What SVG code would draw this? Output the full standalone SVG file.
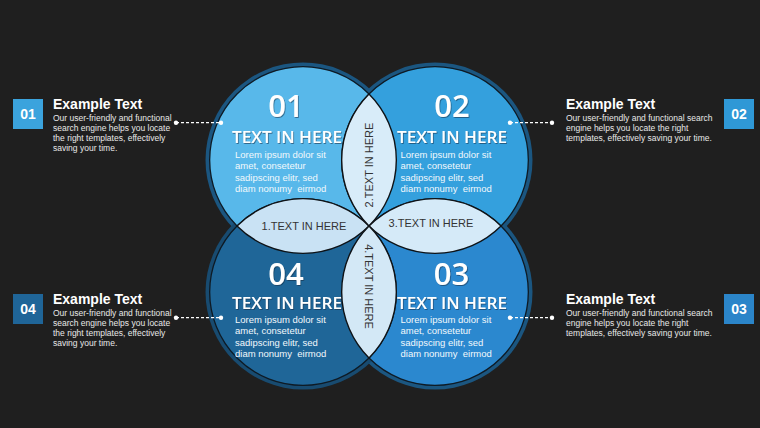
<svg xmlns="http://www.w3.org/2000/svg" width="760" height="428" viewBox="0 0 760 428">
<defs>
<filter id="sh" x="-10%" y="-10%" width="120%" height="130%">
<feDropShadow dx="0.8" dy="1" stdDeviation="0.6" flood-color="#0b2a40" flood-opacity="0.55"/>
</filter>
</defs>
<style>
.ring{fill:#1b5680}
.disc{stroke:#0e1a24;stroke-width:1.3}
.lens{stroke:#0e1216;stroke-width:1.4}
.num{font-family:"Open Sans","Liberation Sans",sans-serif;font-weight:600;font-size:31px;fill:#fff;text-anchor:middle}
.ttl{font-family:"Open Sans","Liberation Sans",sans-serif;font-weight:600;font-size:15.5px;fill:#fff;text-anchor:middle}
.lor{font-family:"Liberation Sans",Arial,sans-serif;font-size:9.5px;fill:#f2f8fc}
.lt{font-family:"Liberation Sans",Arial,sans-serif;font-size:11px;fill:#333;text-anchor:middle}
.box{stroke:none}
.bn{font-family:"Liberation Sans",Arial,sans-serif;font-weight:bold;font-size:14px;fill:#fff;text-anchor:middle}
.et{font-family:"Liberation Sans",Arial,sans-serif;font-weight:bold;font-size:14px;fill:#fff}
.bd{font-family:"Liberation Sans",Arial,sans-serif;font-size:8.5px;fill:#e8e8e8}
.dl{stroke:#fff;stroke-width:1.2;stroke-dasharray:3 2;fill:none}
.dot{fill:#fff}
</style>
<rect width="760" height="428" fill="#1f1f1f"/>

<g id="rings">
<circle class="ring" cx="303" cy="160" r="97.5"/>
<circle class="ring" cx="435" cy="160" r="97.5"/>
<circle class="ring" cx="435" cy="292" r="97.5"/>
<circle class="ring" cx="303" cy="292" r="97.5" style="fill:#184b70"/>
</g>

<g id="circle1">
<circle class="disc" cx="303" cy="160" r="93.34" fill="#58b8ea"/>
</g>
<g id="circle2">
<circle class="disc" cx="435" cy="160" r="93.34" fill="#34a0dd"/>
</g>
<g id="circle3">
<circle class="disc" cx="435" cy="292" r="93.34" fill="#2b88cf"/>
</g>
<g id="circle4">
<circle class="disc" cx="303" cy="292" r="93.34" fill="#1f6698"/>
</g>

<g id="lens1">
<path class="lens" d="M237,226 A93.34,93.34 0 0 1 369,226 A93.34,93.34 0 0 1 237,226 Z" fill="#c9e2f4"/>
<text class="lt" x="304" y="230">1.TEXT IN HERE</text>
</g>
<g id="lens2">
<path class="lens" d="M369,94 A93.34,93.34 0 0 1 369,226 A93.34,93.34 0 0 1 369,94 Z" fill="#d8ecf9"/>
<text class="lt" transform="translate(373,165) rotate(-90)">2.TEXT IN HERE</text>
</g>
<g id="lens3">
<path class="lens" d="M369,226 A93.34,93.34 0 0 1 501,226 A93.34,93.34 0 0 1 369,226 Z" fill="#d5eaf8"/>
<text class="lt" x="431" y="227">3.TEXT IN HERE</text>
</g>
<g id="lens4">
<path class="lens" d="M369,226 A93.34,93.34 0 0 1 369,358 A93.34,93.34 0 0 1 369,226 Z" fill="#d3e8f6"/>
<text class="lt" transform="translate(365,286.5) rotate(90)">4.TEXT IN HERE</text>
</g>

<g id="content1">
<text class="num" x="286" y="117" filter="url(#sh)">01</text>
<text class="ttl" x="287" y="143" textLength="110" lengthAdjust="spacingAndGlyphs" filter="url(#sh)">TEXT IN HERE</text>
<text class="lor" x="235" y="157.5" xml:space="preserve"><tspan x="235" y="157.5">Lorem ipsum dolor sit</tspan><tspan x="235" y="169">amet, consetetur</tspan><tspan x="235" y="180.5">sadipscing elitr, sed</tspan><tspan x="235" y="192">diam nonumy  eirmod</tspan></text>
</g>
<g id="content2">
<text class="num" x="452" y="117" filter="url(#sh)">02</text>
<text class="ttl" x="452" y="143" textLength="110" lengthAdjust="spacingAndGlyphs" filter="url(#sh)">TEXT IN HERE</text>
<text class="lor" x="400.5" y="157.5" xml:space="preserve"><tspan x="400.5" y="157.5">Lorem ipsum dolor sit</tspan><tspan x="400.5" y="169">amet, consetetur</tspan><tspan x="400.5" y="180.5">sadipscing elitr, sed</tspan><tspan x="400.5" y="192">diam nonumy  eirmod</tspan></text>
</g>
<g id="content3">
<text class="num" x="451.5" y="285" filter="url(#sh)">03</text>
<text class="ttl" x="452" y="309" textLength="110" lengthAdjust="spacingAndGlyphs" filter="url(#sh)">TEXT IN HERE</text>
<text class="lor" x="400.5" y="322.5" xml:space="preserve"><tspan x="400.5" y="322.5">Lorem ipsum dolor sit</tspan><tspan x="400.5" y="334">amet, consetetur</tspan><tspan x="400.5" y="345.5">sadipscing elitr, sed</tspan><tspan x="400.5" y="357">diam nonumy  eirmod</tspan></text>
</g>
<g id="content4">
<text class="num" x="286" y="285" filter="url(#sh)">04</text>
<text class="ttl" x="287" y="309" textLength="110" lengthAdjust="spacingAndGlyphs" filter="url(#sh)">TEXT IN HERE</text>
<text class="lor" x="235" y="322.5" xml:space="preserve"><tspan x="235" y="322.5">Lorem ipsum dolor sit</tspan><tspan x="235" y="334">amet, consetetur</tspan><tspan x="235" y="345.5">sadipscing elitr, sed</tspan><tspan x="235" y="357">diam nonumy  eirmod</tspan></text>
</g>

<g id="label1">
<rect class="box" x="13" y="99" width="30" height="30" fill="#3ba3dd"/>
<text class="bn" x="28" y="119">01</text>
<text class="et" x="53" y="109">Example Text</text>
<text class="bd"><tspan x="53" y="120.5">Our user-friendly and functional</tspan><tspan x="53" y="130.5">search engine helps you locate</tspan><tspan x="53" y="140.5">the right templates, effectively</tspan><tspan x="53" y="150.5">saving your time.</tspan></text>
</g>
<g id="label2">
<rect class="box" x="724" y="99" width="30" height="30" fill="#2f98d6"/>
<text class="bn" x="739" y="119">02</text>
<text class="et" x="566" y="108.5">Example Text</text>
<text class="bd"><tspan x="566" y="120.5">Our user-friendly and functional search</tspan><tspan x="566" y="130.5">engine helps you locate the right</tspan><tspan x="566" y="140.5">templates, effectively saving your time.</tspan></text>
</g>
<g id="label3">
<rect class="box" x="724" y="294" width="30" height="30" fill="#2b85c9"/>
<text class="bn" x="739" y="314">03</text>
<text class="et" x="566" y="303.5">Example Text</text>
<text class="bd"><tspan x="566" y="315.5">Our user-friendly and functional search</tspan><tspan x="566" y="325.5">engine helps you locate the right</tspan><tspan x="566" y="335.5">templates, effectively saving your time.</tspan></text>
</g>
<g id="label4">
<rect class="box" x="13" y="294" width="30" height="30" fill="#1f6598"/>
<text class="bn" x="28" y="314">04</text>
<text class="et" x="53" y="303.5">Example Text</text>
<text class="bd"><tspan x="53" y="315.5">Our user-friendly and functional</tspan><tspan x="53" y="325.5">search engine helps you locate</tspan><tspan x="53" y="335.5">the right templates, effectively</tspan><tspan x="53" y="345.5">saving your time.</tspan></text>
</g>

<g id="connectors">
<line class="dl" x1="176" y1="122.7" x2="221" y2="122.7"/>
<circle class="dot" cx="176" cy="122.7" r="2.2"/>
<circle class="dot" cx="221" cy="122.7" r="2.2"/>
<line class="dl" x1="510" y1="122.7" x2="552" y2="122.7"/>
<circle class="dot" cx="510" cy="122.7" r="2.2"/>
<circle class="dot" cx="552" cy="122.7" r="2.2"/>
<line class="dl" x1="510" y1="317.7" x2="552" y2="317.7"/>
<circle class="dot" cx="510" cy="317.7" r="2.2"/>
<circle class="dot" cx="552" cy="317.7" r="2.2"/>
<line class="dl" x1="176" y1="317.7" x2="221" y2="317.7"/>
<circle class="dot" cx="176" cy="317.7" r="2.2"/>
<circle class="dot" cx="221" cy="317.7" r="2.2"/>
</g>
</svg>
